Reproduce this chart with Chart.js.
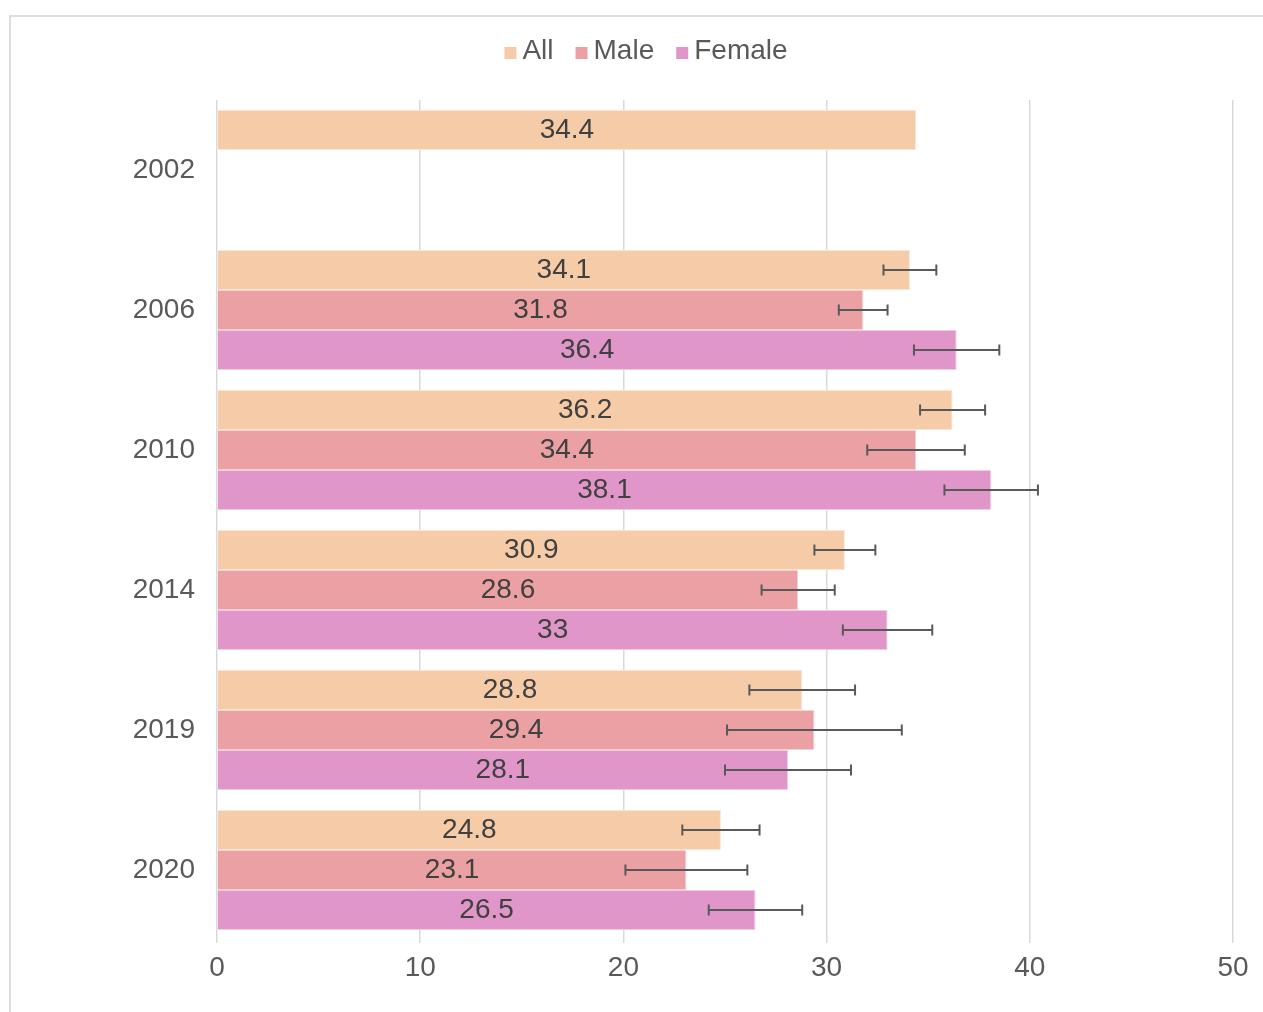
<!DOCTYPE html>
<html>
<head>
<meta charset="utf-8">
<script src="https://cdn.jsdelivr.net/npm/chart.js@4/dist/chart.umd.min.js"></script>
<style>
    body { margin: 0; background: #fff; }
    #frame { position: absolute; left: 9px; top: 15px; width: 1300px; height: 1050px; border: 2px solid #dedede; box-sizing: border-box; }
    #wrap { position: absolute; left: 0; top: 0; width: 1263px; height: 1012px; }
</style>
</head>
<body>
<div id="frame"></div>
<div id="wrap"><canvas id="barChart" width="1263" height="1012"></canvas></div>
<script>
// Values
const years = ['2002', '2006', '2010', '2014', '2019', '2020'];
const allValues = [34.4, 34.1, 36.2, 30.9, 28.8, 24.8];
const maleValues = [null, 31.8, 34.4, 28.6, 29.4, 23.1];
const femaleValues = [null, 36.4, 38.1, 33, 28.1, 26.5];

// error bar bounds [low, high]
const allErrors = [null, [32.8, 35.4], [34.6, 37.8], [29.4, 32.4], [26.2, 31.4], [22.9, 26.7]];
const maleErrors = [null, [30.6, 33.0], [32.0, 36.8], [26.8, 30.4], [25.1, 33.7], [20.1, 26.1]];
const femaleErrors = [null, [34.3, 38.5], [35.8, 40.4], [30.8, 35.2], [25.0, 31.2], [24.2, 28.8]];

const xTicks = [0, 10, 20, 30, 40, 50];

const fontFamily = '"Liberation Sans", Arial, sans-serif';
const errorSets = [allErrors, maleErrors, femaleErrors];

// draws value labels in the middle of each bar and the error bars
const barExtras = {
    id: 'barExtras',
    afterDatasetsDraw(chart) {
        const ctx = chart.ctx;
        const xScale = chart.scales.x;
        chart.data.datasets.forEach((ds, i) => {
            const meta = chart.getDatasetMeta(i);
            meta.data.forEach((bar, j) => {
                const v = ds.data[j];
                if (v === null || v === undefined) return;
                const y = bar.y;
                // value label
                ctx.save();
                ctx.fillStyle = '#404040';
                ctx.font = '28px ' + fontFamily;
                ctx.textAlign = 'center';
                ctx.textBaseline = 'middle';
                ctx.fillText(String(v), (bar.x + bar.base) / 2, y);
                ctx.restore();
                // error bar
                const err = errorSets[i][j];
                if (!err) return;
                const x1 = xScale.getPixelForValue(err[0]);
                const x2 = xScale.getPixelForValue(err[1]);
                ctx.save();
                ctx.strokeStyle = '#595959';
                ctx.lineWidth = 2;
                ctx.beginPath();
                ctx.moveTo(x1, y);
                ctx.lineTo(x2, y);
                ctx.moveTo(x1, y - 5.5);
                ctx.lineTo(x1, y + 5.5);
                ctx.moveTo(x2, y - 5.5);
                ctx.lineTo(x2, y + 5.5);
                ctx.stroke();
                ctx.restore();
            });
        });
    }
};

// legend drawn by hand so the box/text spacing matches the original
const compactLegend = {
    id: 'compactLegend',
    afterDraw(chart) {
        const ctx = chart.ctx;
        const centerX = 646;
        const baseline = 59;
        const box = 12, gap = 6, itemGap = 22;
        ctx.save();
        ctx.font = '28px ' + fontFamily;
        const items = chart.data.datasets.map(ds => ({
            text: ds.label,
            color: ds.backgroundColor,
            w: ctx.measureText(ds.label).width
        }));
        let total = items.reduce((s, it) => s + box + gap + it.w, 0) + itemGap * (items.length - 1);
        let x = centerX - total / 2;
        ctx.textBaseline = 'alphabetic';
        ctx.textAlign = 'left';
        items.forEach(it => {
            ctx.fillStyle = it.color;
            ctx.fillRect(x, baseline - box, box, box);
            x += box + gap;
            ctx.fillStyle = '#595959';
            ctx.fillText(it.text, x, baseline);
            x += it.w + itemGap;
        });
        ctx.restore();
    }
};

const ctx = document.getElementById('barChart').getContext('2d');
new Chart(ctx, {
    type: 'bar',
    data: {
        labels: years,
        datasets: [
            { label: 'All', data: allValues, backgroundColor: '#F5CCA7', borderColor: '#FBE6D4', borderWidth: 1 },
            { label: 'Male', data: maleValues, backgroundColor: '#EBA1A3', borderColor: '#F5D0D1', borderWidth: 1 },
            { label: 'Female', data: femaleValues, backgroundColor: '#E096C8', borderColor: '#F0CBE4', borderWidth: 1 }
        ]
    },
    options: {
        indexAxis: 'y',
        responsive: false,
        animation: false,
        layout: { padding: { top: 100, right: 30, left: 0, bottom: 0 } },
        datasets: {
            bar: { categoryPercentage: 0.857, barPercentage: 1.0 }
        },
        plugins: {
            legend: { display: false },
            tooltip: { enabled: false }
        },
        scales: {
            x: {
                min: 0,
                max: 50,
                afterBuildTicks(axis) {
                    axis.ticks = xTicks.map(v => ({ value: v }));
                },
                afterFit(axis) { axis.height = 72; },
                grid: { color: '#d9d9d9', lineWidth: 1.5, drawTicks: true, tickLength: 3 },
                border: { display: false },
                ticks: { color: '#595959', padding: 8, font: { size: 28, family: fontFamily } }
            },
            y: {
                afterFit(axis) { axis.width = 217; },
                grid: { display: false, drawTicks: false },
                border: { display: false },
                ticks: { color: '#595959', padding: 22, font: { size: 28, family: fontFamily } }
            }
        }
    },
    plugins: [barExtras, compactLegend]
});
</script>
</body>
</html>
